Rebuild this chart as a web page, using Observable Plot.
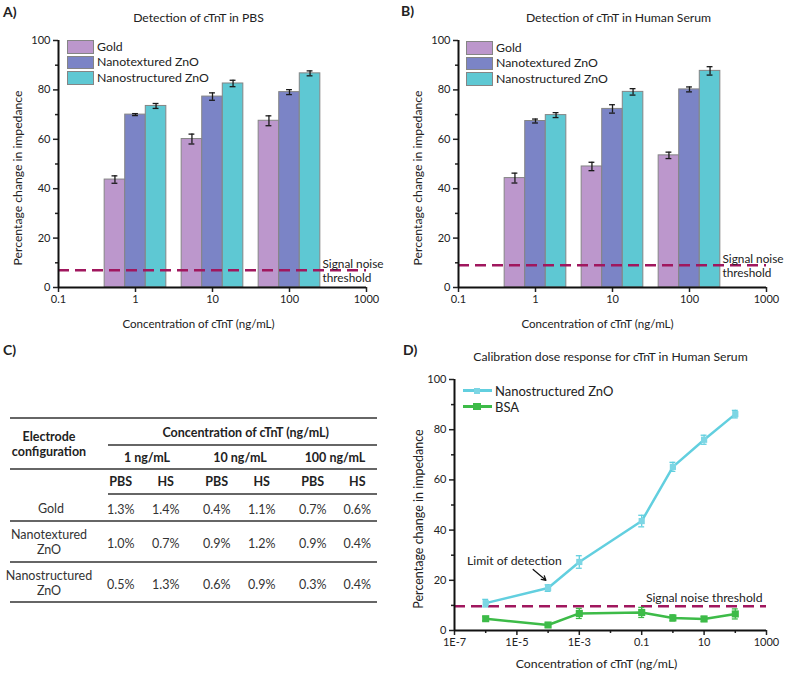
<!DOCTYPE html>
<html><head><meta charset="utf-8">
<script src="https://cdn.jsdelivr.net/npm/d3@7"></script>
<script src="https://cdn.jsdelivr.net/npm/@observablehq/plot@0.6"></script>
<style>
body{margin:0;background:#fff;font-family:Lato,"Noto Sans",sans-serif;color:#222}
#root{position:relative;width:787px;height:676px;overflow:hidden;background:#fff}
.abs{position:absolute;white-space:nowrap}
.panel{font-weight:bold;font-size:14px}
svg{overflow:visible}
</style></head><body><div id="root"></div>
<script>
// ---------- data ----------
const concentrations = [1, 10, 100];
const electrodes = ["Gold", "Nanotextured ZnO", "Nanostructured ZnO"];
const pbsGold = [43.7, 60.1, 67.5];
const pbsGoldErr = [1.5, 2.0, 2.0];
const pbsNanotextured = [70.0, 77.3, 79.1];
const pbsNanotexturedErr = [0.4, 1.5, 1.0];
const pbsNanostructured = [73.5, 82.6, 86.7];
const pbsNanostructuredErr = [1.0, 1.3, 1.0];
const hsGold = [44.3, 49.0, 53.5];
const hsGoldErr = [2.0, 1.7, 1.3];
const hsNanotextured = [67.4, 72.3, 80.2];
const hsNanotexturedErr = [0.8, 1.7, 1.0];
const hsNanostructured = [69.8, 79.2, 87.7];
const hsNanostructuredErr = [1.0, 1.3, 1.7];
const pbsThreshold = 7;
const hsThreshold = 9;
const barTicks = [0.1, 1, 10, 100, 1000];
const yTicks = [0, 20, 40, 60, 80, 100];
const yMinorTicks = [10, 30, 50, 70, 90];

const doseConc = [1e-6, 1e-4, 1e-3, 0.1, 1, 10, 100];
const doseZnO = [10.9, 16.9, 27.3, 43.6, 65.2, 76.0, 86.2];
const doseZnOErr = [1.5, 1.3, 2.5, 2.3, 1.8, 1.8, 1.5];
const doseBSA = [4.7, 2.2, 6.8, 7.2, 5.0, 4.6, 6.6];
const doseBSAErr = [0.8, 0.8, 2.0, 2.0, 1.2, 1.0, 2.0];
const doseThreshold = 9.7;
const doseTicks = [1e-7, 1e-5, 1e-3, 0.1, 10, 1000];
const doseTickLabels = ["1E-7", "1E-5", "1E-3", "0.1", "10", "1000"];
const doseMinorTicks = [1e-6, 1e-4, 1e-2, 1, 100];
const lodIndex = 1;

const tableRowLabels = [["Gold"], ["Nanotextured", "ZnO"], ["Nanostructured", "ZnO"]];
const tableConcLabels = ["1 ng/mL", "10 ng/mL", "100 ng/mL"];
const tableMedia = ["PBS", "HS", "PBS", "HS", "PBS", "HS"];
const cvGold = ["1.3%", "1.4%", "0.4%", "1.1%", "0.7%", "0.6%"];
const cvNanotextured = ["1.0%", "0.7%", "0.9%", "1.2%", "0.9%", "0.4%"];
const cvNanostructured = ["0.5%", "1.3%", "0.6%", "0.9%", "0.3%", "0.4%"];

// ---------- styles ----------
const FONT = "Lato, 'Noto Sans', sans-serif";
const barColors = ["#bc97cc", "#7b84c6", "#5ec8d3"];
const barStroke = "#858585";
const thrColor = "#a0175e";
const cyan = "#62cfdf", cyanMark = "#7dd6e4", green = "#3dbb48";
const BAR_DEC = 0.267, CAP_DEC = 0.038;

const root = document.getElementById("root");
function place(html, left, top, style = "") {
  const d = document.createElement("div");
  d.className = "abs";
  d.style.cssText = `left:${left}px;top:${top}px;` + style;
  d.innerHTML = html;
  root.appendChild(d);
  return d;
}
function centered(text, cx, cy, style = "", lh = 15) {
  return place(text, cx - 150, cy - lh / 2, `width:300px;text-align:center;line-height:${lh}px;` + style);
}

function axesMarks(ticks, fmt, minor, xMin) {
  return [
    Plot.axisX({ticks, tickFormat: fmt, tickSize: 5, tickPadding: 3, label: null, fontSize: 11, strokeWidth: 1.5}),
    ...(minor ? [Plot.axisX({ticks: minor, tickFormat: () => "", tickSize: 3, label: null, strokeWidth: 1.5})] : []),
    Plot.axisY({ticks: yTicks, tickSize: 5, tickPadding: 3, label: null, fontSize: 11, strokeWidth: 1.5}),
    Plot.axisY({ticks: yMinorTicks, tickSize: 3, tickFormat: () => "", label: null, strokeWidth: 1.5}),
    Plot.ruleX([xMin], {stroke: "#111", strokeWidth: 2}),
    Plot.ruleY([0], {stroke: "#111", strokeWidth: 2})
  ];
}

function barChart({values, errors, threshold, title, width, ml, mr, titleDx, xlabDx}) {
  const marks = [];
  electrodes.forEach((name, i) => {
    const rows = concentrations.map((c, j) => ({
      x1: c * 10 ** ((i - 1.5) * BAR_DEC),
      x2: c * 10 ** ((i - 0.5) * BAR_DEC),
      xc: c * 10 ** ((i - 1) * BAR_DEC),
      v: values[i][j], e: errors[i][j]
    }));
    marks.push(Plot.rect(rows, {x1: "x1", x2: "x2", y1: 0, y2: "v", fill: barColors[i], stroke: barStroke, strokeWidth: 1}));
    marks.push(Plot.ruleX(rows, {x: "xc", y1: d => d.v - d.e, y2: d => d.v + d.e, stroke: "#1a1a1a", strokeWidth: 1.3}));
    for (const s of [-1, 1]) {
      marks.push(Plot.ruleY(rows, {y: d => d.v + s * d.e, x1: d => d.xc / 10 ** CAP_DEC, x2: d => d.xc * 10 ** CAP_DEC, stroke: "#1a1a1a", strokeWidth: 1.3}));
    }
  });
  marks.push(Plot.ruleY([threshold], {stroke: thrColor, strokeWidth: 2.5, strokeDasharray: "11,6"}));
  marks.push(Plot.text([threshold], {x: 1000, y: d => d, text: () => "Signal noise\nthreshold", textAnchor: "start", lineAnchor: "middle", dx: -44, fontSize: 11.8, lineHeight: 1.25, fill: "#222"}));
  marks.push(...axesMarks(barTicks, d => d3.format("~g")(d), null, 0.1));
  marks.push(Plot.text([title], {frameAnchor: "top", dy: -22, dx: titleDx, fontSize: 12.2, lineAnchor: "middle", textAnchor: "middle", fill: "#222"}));
  marks.push(Plot.text(["Concentration of cTnT (ng/mL)"], {frameAnchor: "bottom", dy: 37, dx: xlabDx, fontSize: 11.6, lineAnchor: "middle", textAnchor: "middle", fill: "#222"}));
  marks.push(Plot.text(["Percentage change in impedance"], {frameAnchor: "left", rotate: -90, dx: -40, dy: 14, fontSize: 12.2, lineAnchor: "middle", textAnchor: "middle", fill: "#222"}));
  return Plot.plot({
    width, height: 340, marginLeft: ml, marginRight: mr, marginTop: 40, marginBottom: 53,
    x: {type: "log", domain: [0.1, 1000]},
    y: {domain: [0, 100]},
    style: {fontFamily: FONT, fontSize: "11px", color: "#222", background: "transparent"},
    marks
  });
}

// Panel A
const svgA = barChart({
  values: [pbsGold, pbsNanotextured, pbsNanostructured],
  errors: [pbsGoldErr, pbsNanotexturedErr, pbsNanostructuredErr],
  threshold: pbsThreshold, title: "Detection of cTnT in PBS",
  width: 390, ml: 58, mr: 24, titleDx: -14, xlabDx: -14
});
const wrapA = place("", 0, 0); wrapA.appendChild(svgA);

// Panel B
const svgB = barChart({
  values: [hsGold, hsNanotextured, hsNanostructured],
  errors: [hsGoldErr, hsNanotexturedErr, hsNanostructuredErr],
  threshold: hsThreshold, title: "Detection of cTnT in Human Serum",
  width: 397, ml: 68, mr: 21, titleDx: 6, xlabDx: -15
});
const wrapB = place("", 390, 0); wrapB.appendChild(svgB);

// Bar legends (HTML)
function barLegend(x, y) {
  electrodes.forEach((name, i) => {
    place("", x, y + i * 15.5, `width:25px;height:11.5px;background:${barColors[i]};border:1px solid ${barStroke}`);
    place(name, x + 30, y + i * 15.5 - 1.5, "font-size:12.3px;line-height:15px");
  });
}
barLegend(67, 40);
barLegend(466, 41);

// Panel D
const doseRows = doseConc.map((c, k) => ({c, z: doseZnO[k], ze: doseZnOErr[k], b: doseBSA[k], be: doseBSAErr[k]}));
const CAP_D = 0.095;
function errMarks(key, ekey, color) {
  return [
    Plot.ruleX(doseRows, {x: "c", y1: d => d[key] - d[ekey], y2: d => d[key] + d[ekey], stroke: color, strokeWidth: 1.3}),
    ...[-1, 1].map(s => Plot.ruleY(doseRows, {y: d => d[key] + s * d[ekey], x1: d => d.c / 10 ** CAP_D, x2: d => d.c * 10 ** CAP_D, stroke: color, strokeWidth: 1.3}))
  ];
}
const lod = doseRows[lodIndex];
const svgD = Plot.plot({
  width: 397, height: 336, marginLeft: 64, marginRight: 21, marginTop: 39, marginBottom: 46,
  x: {type: "log", domain: [1e-7, 1000]},
  y: {domain: [0, 100]},
  style: {fontFamily: FONT, fontSize: "11px", color: "#222", background: "transparent"},
  marks: [
    Plot.ruleY([doseThreshold], {stroke: thrColor, strokeWidth: 2.5, strokeDasharray: "11,6"}),
    Plot.line(doseRows, {x: "c", y: "b", stroke: green, strokeWidth: 2.5}),
    ...errMarks("b", "be", green),
    Plot.dot(doseRows, {x: "c", y: "b", symbol: "square", r: 4, fill: green}),
    Plot.line(doseRows, {x: "c", y: "z", stroke: cyan, strokeWidth: 2.5}),
    ...errMarks("z", "ze", cyan),
    Plot.dot(doseRows, {x: "c", y: "z", symbol: "square", r: 3.5, fill: cyanMark}),
    Plot.text([lod], {x: "c", y: "z", text: () => "Limit of detection", dx: -81, dy: -27, textAnchor: "start", lineAnchor: "middle", fontSize: 12.2, fill: "#222"}),
    Plot.arrow([lod], {x1: d => d.c * 10 ** -0.48, y1: d => d.z + 7.4, x2: d => d.c * 10 ** -0.07, y2: d => d.z + 3.1, stroke: "#111", strokeWidth: 1.2, headLength: 6}),
    Plot.text([doseThreshold], {x: 1000, y: d => d, text: () => "Signal noise threshold", textAnchor: "end", lineAnchor: "middle", dx: -4, dy: -8, fontSize: 12.2, fill: "#222"}),
    ...axesMarks(doseTicks, (d, i) => doseTickLabels[doseTicks.indexOf(d)], doseMinorTicks, 1e-7),
    Plot.text(["Calibration dose response for cTnT in Human Serum"], {frameAnchor: "top", dy: -22, dx: 0, fontSize: 12.2, lineAnchor: "middle", textAnchor: "middle", fill: "#222"}),
    Plot.text(["Concentration of cTnT (ng/mL)"], {frameAnchor: "bottom", dy: 34, dx: -14, fontSize: 12.3, lineAnchor: "middle", textAnchor: "middle", fill: "#222"}),
    Plot.text(["Percentage change in impedance"], {frameAnchor: "left", rotate: -90, dx: -36, dy: 14, fontSize: 12.5, lineAnchor: "middle", textAnchor: "middle", fill: "#222"})
  ]
});
const wrapD = place("", 390, 340); wrapD.appendChild(svgD);

// D legend
[["Nanostructured ZnO", cyan, cyanMark, 6], ["BSA", green, green, 7.5]].forEach(([name, col, mk, sz], i) => {
  const y = 390.7 + i * 16;
  place("", 462.7, y - 1.25, `width:29px;height:2.5px;background:${col}`);
  place("", 477 - sz / 2, y - sz / 2, `width:${sz}px;height:${sz}px;background:${mk}`);
  place(name, 495, y - 8, "font-size:13px;line-height:16px");
});

// Panel letters
place("A)", 3, 3).className += " panel";
place("B)", 401, 2).className += " panel";
place("C)", 3, 341).className += " panel";
place("D)", 403, 341).className += " panel";

// Panel C table (HTML)
const colCenters = [120.7, 165.7, 216.7, 261.7, 312.7, 357.3];
const groupCenters = [147, 240, 335];
const labelCenter = 49;
const tStyle = "font-size:12.5px;color:#333";
const tBold = "font-size:12.5px;font-weight:bold;color:#222";
function hline(y, x1, x2) { place("", x1, y - 1, `width:${x2 - x1}px;height:2px;background:#666`); }
[417.7, 469, 520.7, 561.7, 602.3].forEach(y => hline(y, 10, 377));
[445, 494].forEach(y => hline(y, 108, 377));
centered("Electrode", labelCenter, 436.7, tBold);
centered("configuration", labelCenter, 451.7, tBold);
centered("Concentration of cTnT (ng/mL)", 245.7, 432.3, tBold);
tableConcLabels.forEach((t, i) => centered(t, groupCenters[i], 457.7, tBold));
tableMedia.forEach((t, i) => centered(t, colCenters[i], 481.7, tBold));
const cvRows = [cvGold, cvNanotextured, cvNanostructured];
const rowCenters = [508.3, 542.3, 583.3];
tableRowLabels.forEach((lines, r) => {
  const n = lines.length;
  lines.forEach((t, k) => centered(t, labelCenter + (n > 1 ? 0 : 2), rowCenters[r] + (k - (n - 1) / 2) * 15, tStyle));
  cvRows[r].forEach((t, i) => centered(t, colCenters[i], rowCenters[r] + 1, tStyle));
});
</script></body></html>
